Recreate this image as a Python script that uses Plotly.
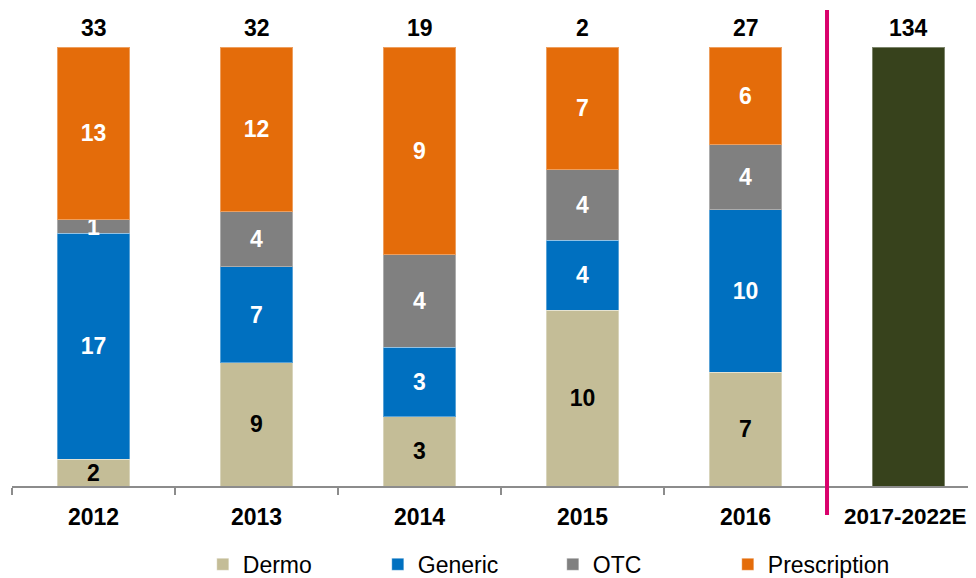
import plotly.graph_objects as go

years = ["2012", "2013", "2014", "2015", "2016"]
forecast_label = "2017-2022E"
dermo = [2, 9, 3, 10, 7]
generic = [17, 7, 3, 4, 10]
otc = [1, 4, 4, 4, 4]
prescription = [13, 12, 9, 7, 6]
forecast_value = [134]
total_labels = ["33", "32", "19", "2", "27", "134"]

categories = years + [forecast_label]
FONT = "Liberation Sans, Arial, sans-serif"
FS = 23

series = [
    ("Dermo", dermo, "#C4BD97", "black"),
    ("Generic", generic, "#0070C0", "white"),
    ("OTC", otc, "#808080", "white"),
    ("Prescription", prescription, "#E46C0A", "white"),
]

fig = go.Figure()
for name, vals, color, tcolor in series:
    fig.add_trace(go.Bar(
        x=years, y=vals, name=name,
        marker=dict(color=color, line=dict(color="rgba(255,255,255,0.35)", width=1)),
        text=[str(v) for v in vals], texttemplate="%{text}",
        textposition="inside", insidetextanchor="middle", constraintext="none",
        textangle=0,
        textfont=dict(family=FONT, size=FS, color=tcolor, weight="bold"),
        hoverinfo="skip",
    ))

fig.add_trace(go.Bar(
    x=[forecast_label], y=forecast_value, name="Forecast", showlegend=False,
    marker=dict(color="#37421C", line=dict(color="rgba(255,255,255,0.35)", width=1)),
    hoverinfo="skip",
))

for i, lab in enumerate(total_labels):
    fig.add_annotation(x=i, y=100, xref="x", yref="y", text=lab, showarrow=False,
                       yanchor="bottom", yshift=4,
                       font=dict(family=FONT, size=FS, color="black", weight="bold"))

# forecast category label (drawn as annotation to keep it inside the right edge)
fig.add_annotation(x=len(years), y=0, xref="x", yref="y", text=forecast_label,
                   showarrow=False, yanchor="middle", yshift=-30, xshift=-3,
                   font=dict(family=FONT, size=22.5, color="black", weight="bold"))

fig.add_shape(type="line", xref="x", yref="paper", x0=4.5, x1=4.5,
              y0=-0.066, y1=1.084, line=dict(color="#D9016C", width=4))

fig.update_layout(
    width=968, height=578,
    margin=dict(l=4, r=0, t=39, b=100, autoexpand=False),
    barmode="stack", barnorm="percent", bargap=0.555,
    plot_bgcolor="white", paper_bgcolor="white",
    font=dict(family=FONT, size=FS, color="black"),
    showlegend=True,
    legend=dict(orientation="h", x=0.561, xanchor="center", y=-0.1294, yanchor="top",
                font=dict(family=FONT, size=FS, color="black"),
                entrywidth=130, traceorder="normal", itemclick=False),
    xaxis=dict(type="category", categoryorder="array", categoryarray=categories,
               tickvals=categories, ticktext=years + [""],
               range=[-0.5, 5.414], showline=True, linecolor="#8C8C8C", linewidth=2,
               ticks="outside", tickson="boundaries", ticklen=7, tickwidth=2,
               tickcolor="#8C8C8C", showgrid=False, automargin=False,
               ticklabelstandoff=9,
               tickfont=dict(family=FONT, size=FS, color="black", weight="bold")),
    yaxis=dict(range=[0, 100], visible=False, showgrid=False, automargin=False),
)

fig.write_html("out.html")
